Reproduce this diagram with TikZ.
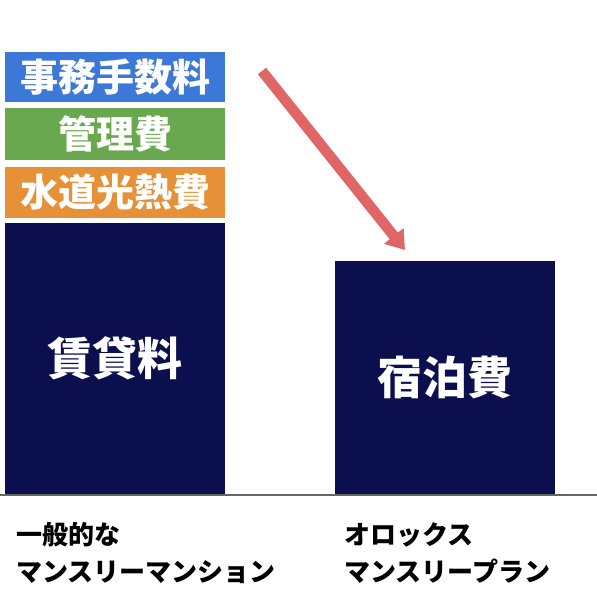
\documentclass[tikz,border=0pt]{standalone}
\usepackage{fontspec}
\usepackage{tikz}
\usetikzlibrary{arrows.meta}
\newfontfamily\cjk{Noto Sans CJK JP}

\definecolor{azul}{HTML}{3C78D8}
\definecolor{verde}{HTML}{6AA84F}
\definecolor{laranja}{HTML}{E69138}
\definecolor{marinho}{HTML}{0C0F4E}
\definecolor{seta}{HTML}{E06666}

\begin{document}
\begin{tikzpicture}[x=1pt, y=-1pt, >=Triangle,
    barra/.style={rectangle, inner sep=0pt, minimum width=220pt, text=white, font=\cjk\bfseries\fontsize{38}{38}\selectfont},
    rotulo/.style={anchor=west, align=left, inner sep=0pt, font=\cjk\bfseries\fontsize{26}{37}\selectfont}]
    \useasboundingbox (0,0) rectangle (597,594);

    % barras da esquerda
    \node[barra, fill=azul, minimum height=50pt] (taxa) at (115,77) {事務手数料};
    \node[barra, fill=verde, minimum height=52pt] (gestao) at (115,134) {管理費};
    \node[barra, fill=laranja, minimum height=51pt] (agua) at (115,192.5) {水道光熱費};
    \node[barra, fill=marinho, minimum height=271pt, font=\cjk\bfseries\fontsize{45}{45}\selectfont] (aluguel) at (115,358.5) {賃貸料};

    % barra da direita
    \node[barra, fill=marinho, minimum height=233pt, font=\cjk\bfseries\fontsize{45}{45}\selectfont] (hospedagem) at (445,377.5) {宿泊費};

    % linha de base
    \coordinate (base0) at (0,495);
    \coordinate (base1) at (597,495);
    \draw[gray!80!black, line width=2.5pt] (base0) -- (base1);

    % seta
    \coordinate (inicio) at (262,71);
    \coordinate (fim) at (405,250);
    \draw[->, seta, line width=10.5pt, >={Triangle[width=24pt, length=18pt]}] (inicio) -- (fim);

    % rótulos
    \node[rotulo] (comum) at (16,553) {一般的な\\マンスリーマンション};
    \node[rotulo] (olox) at (344,553) {オロックス\\マンスリープラン};
\end{tikzpicture}
\end{document}
